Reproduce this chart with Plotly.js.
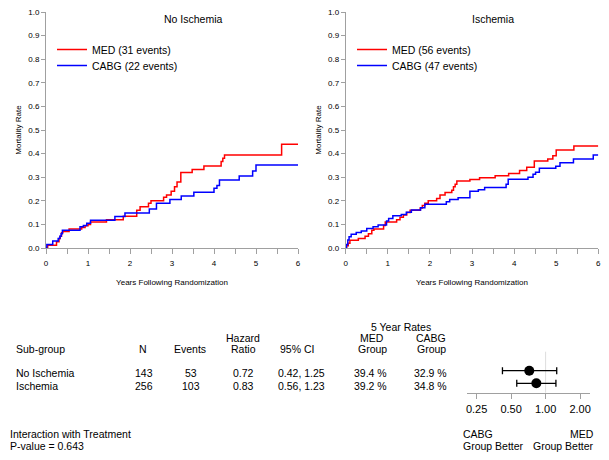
<!DOCTYPE html>
<html>
<head>
<meta charset="utf-8">
<script src="https://cdn.plot.ly/plotly-3.0.1.min.js"></script>
<style>html,body{margin:0;padding:0;background:#fff;}#chart{width:609px;height:460px;}</style>
</head>
<body>
<div id="chart"></div>
<script>
// ---- Kaplan-Meier data: No Ischemia ----
const noIschMedT = [0, 0.04, 0.25, 0.31, 0.34, 0.37, 0.4, 0.55, 0.85, 0.93, 1.0, 1.06, 1.44, 1.84, 2.16, 2.24, 2.44, 2.5, 2.8, 2.87, 2.98, 3.06, 3.12, 3.21, 3.48, 3.76, 4.17, 4.21, 4.25, 5.61, 6.0];
const noIschMedY = [0, 0.012, 0.027, 0.04, 0.05, 0.065, 0.07, 0.08, 0.087, 0.094, 0.1, 0.11, 0.12, 0.135, 0.16, 0.175, 0.19, 0.2, 0.215, 0.225, 0.24, 0.26, 0.28, 0.32, 0.333, 0.347, 0.366, 0.38, 0.394, 0.44, 0.44];
const noIschCabgT = [0, 0.02, 0.16, 0.29, 0.33, 0.36, 0.39, 0.81, 0.89, 0.97, 1.06, 1.64, 1.88, 2.46, 2.63, 2.95, 3.22, 3.52, 4.0, 4.07, 4.13, 4.6, 4.92, 5.0, 6.0];
const noIschCabgY = [0, 0.015, 0.03, 0.04, 0.05, 0.06, 0.075, 0.09, 0.095, 0.105, 0.118, 0.133, 0.148, 0.165, 0.19, 0.205, 0.22, 0.236, 0.253, 0.265, 0.288, 0.305, 0.326, 0.352, 0.352];

// ---- Kaplan-Meier data: Ischemia ----
const ischMedT = [0, 0.02, 0.06, 0.1, 0.3, 0.46, 0.54, 0.62, 0.67, 0.9, 0.94, 1.21, 1.29, 1.37, 1.45, 1.53, 1.77, 1.82, 1.88, 1.96, 2.16, 2.24, 2.36, 2.52, 2.56, 2.6, 2.64, 2.95, 3.18, 3.55, 3.87, 4.13, 4.3, 4.48, 4.8, 4.92, 5.0, 5.42, 6.0];
const ischMedY = [0, 0.01, 0.02, 0.033, 0.04, 0.05, 0.06, 0.075, 0.08, 0.095, 0.11, 0.12, 0.13, 0.14, 0.15, 0.16, 0.17, 0.18, 0.19, 0.2, 0.21, 0.225, 0.235, 0.245, 0.26, 0.27, 0.284, 0.29, 0.298, 0.306, 0.316, 0.328, 0.342, 0.369, 0.377, 0.391, 0.415, 0.432, 0.432];
const ischCabgT = [0, 0.02, 0.05, 0.08, 0.13, 0.25, 0.37, 0.5, 0.65, 0.77, 0.97, 1.02, 1.12, 1.32, 1.44, 1.56, 1.78, 1.88, 2.39, 2.47, 2.67, 2.95, 3.15, 3.3, 3.81, 3.86, 4.33, 4.45, 4.51, 4.6, 4.99, 5.09, 5.41, 5.88, 6.0];
const ischCabgY = [0, 0.015, 0.034, 0.048, 0.058, 0.066, 0.072, 0.083, 0.09, 0.097, 0.114, 0.125, 0.137, 0.142, 0.151, 0.161, 0.171, 0.185, 0.196, 0.205, 0.213, 0.24, 0.247, 0.256, 0.27, 0.291, 0.3, 0.312, 0.321, 0.338, 0.346, 0.361, 0.377, 0.394, 0.394];

const panelTitles = ["No Ischemia", "Ischemia"];
const medEvents = [31, 56];
const cabgEvents = [22, 47];

// ---- Forest table ----
const subgroups = ["No Ischemia", "Ischemia"];
const nVals = [143, 256];
const eventVals = [53, 103];
const hrVals = [0.72, 0.83];
const ciLow = [0.42, 0.56];
const ciHigh = [1.25, 1.23];
const medRate = [39.4, 39.2];
const cabgRate = [32.9, 34.8];
const forestTicks = [0.25, 0.5, 1, 2];
const forestTickText = ["0.25", "0.50", "1.00", "2.00"];
const pValue = "0.643";

const W = 609, H = 460;
const px = v => v / W;
const py = v => 1 - v / H;
const FONT = "Liberation Sans, Arial, sans-serif";
const RED = "#FF0000", BLUE = "#0000FF";
const AX = "#A0A0A0";

const traces = [
  {x: noIschMedT, y: noIschMedY, type: "scatter", mode: "lines", line: {shape: "hv", color: RED, width: 1.5},
   name: "MED (" + medEvents[0] + " events)", xaxis: "x", yaxis: "y", legend: "legend"},
  {x: noIschCabgT, y: noIschCabgY, type: "scatter", mode: "lines", line: {shape: "hv", color: BLUE, width: 1.5},
   name: "CABG (" + cabgEvents[0] + " events)", xaxis: "x", yaxis: "y", legend: "legend2"},
  {x: ischMedT, y: ischMedY, type: "scatter", mode: "lines", line: {shape: "hv", color: RED, width: 1.5},
   name: "MED (" + medEvents[1] + " events)", xaxis: "x2", yaxis: "y2", legend: "legend3"},
  {x: ischCabgT, y: ischCabgY, type: "scatter", mode: "lines", line: {shape: "hv", color: BLUE, width: 1.5},
   name: "CABG (" + cabgEvents[1] + " events)", xaxis: "x2", yaxis: "y2", legend: "legend4"},
  {x: hrVals, y: subgroups.map((s, i) => subgroups.length - i), type: "scatter", mode: "markers",
   marker: {symbol: "circle", size: 10, color: "#000"},
   error_x: {type: "data", symmetric: false,
     array: hrVals.map((h, i) => ciHigh[i] - h), arrayminus: hrVals.map((h, i) => h - ciLow[i]),
     color: "#000", thickness: 1.3, width: 3.5},
   xaxis: "x3", yaxis: "y3", showlegend: false, hoverinfo: "skip"}
];

const xTickVals = [], xTickText = [];
for (let i = 0; i <= 12; i++) { xTickVals.push(i / 2); xTickText.push(i % 2 === 0 ? String(i / 2) : ""); }

function kmX(domain) {
  return {domain: domain, range: [0, 6], showline: true, linecolor: AX, linewidth: 1, ticks: "outside", tickcolor: AX,
    ticklen: 5, tickwidth: 1, tickvals: xTickVals, ticktext: xTickText, tickfont: {size: 8, color: "#000", family: FONT},
    ticklabelstandoff: 2,
    showgrid: false, zeroline: false, fixedrange: true,
    title: {text: "Years Following Randomization", font: {size: 8, color: "#000", family: FONT}, standoff: 12}};
}
function kmY(domain, anchor) {
  return {domain: domain, anchor: anchor, range: [0, 1], showline: true, linecolor: AX, linewidth: 1, ticks: "outside",
    tickcolor: AX, ticklen: 4, dtick: 0.1, tick0: 0, tickformat: ".1f", tickfont: {size: 8, color: "#000", family: FONT},
    showgrid: false, zeroline: false, fixedrange: true,
    title: {text: "Mortality Rate", font: {size: 8, color: "#000", family: FONT}, standoff: 5}};
}

function leg(x, yTop) {
  return {x: px(x), y: py(yTop), xanchor: "left", yanchor: "top", bgcolor: "rgba(0,0,0,0)", borderwidth: 0,
    font: {size: 10.5, family: FONT, color: "#000"}, tracegroupgap: 0};
}

const yDom = [py(248), py(12)];
const layout = {
  width: W, height: H, margin: {l: 0, r: 0, t: 0, b: 0}, paper_bgcolor: "#fff", plot_bgcolor: "#fff",
  font: {family: FONT, color: "#000"},
  xaxis: Object.assign(kmX([px(46), px(298)]), {anchor: "y"}),
  yaxis: kmY(yDom, "x"),
  xaxis2: Object.assign(kmX([px(345.7), px(598.3)]), {anchor: "y2"}),
  yaxis2: kmY(yDom, "x2"),
  xaxis3: {domain: [px(467), px(590)], anchor: "y3", type: "log", range: [Math.log10(0.206), Math.log10(2.44)],
    tickvals: forestTicks, ticktext: forestTickText, showline: true, linecolor: AX, ticks: "outside", tickcolor: AX,
    ticklen: 5, ticklabelstandoff: 1, tickfont: {size: 11, color: "#000", family: FONT}, showgrid: false, zeroline: false, fixedrange: true},
  yaxis3: {domain: [py(392.7), py(351.7)], anchor: "x3", range: [0.254, 3.51], visible: false, fixedrange: true},
  showlegend: true,
  legend: leg(52, 35),
  legend2: leg(52, 51),
  legend3: leg(352, 35),
  legend4: leg(352, 51),
  shapes: [
    {type: "line", xref: "x3", yref: "y3 domain", x0: 1, x1: 1, y0: 0, y1: 1, line: {color: "#DDDDDD", width: 1}, layer: "below"}
  ],
  annotations: []
};

function ann(text, x, y, align, size) {
  layout.annotations.push({text: text, xref: "paper", yref: "paper", x: px(x), y: py(y), showarrow: false,
    xanchor: align, yanchor: "middle", font: {size: size || 10.5, family: FONT, color: "#000"}});
}
// panel titles
ann(panelTitles[0], 193, 19, "center", 10.5);
ann(panelTitles[1], 493, 19, "center", 10.5);

// table header
ann("Sub-group", 14, 349, "left");
ann("N", 143, 349, "center");
ann("Events", 190, 349, "center");
ann("Hazard", 243, 338, "center");
ann("Ratio", 243, 349, "center");
ann("95% CI", 297, 349, "center");
ann("5 Year Rates", 401, 326.5, "center");
ann("MED", 372, 338, "center");
ann("Group", 372, 349, "center");
ann("CABG", 431, 338, "center");
ann("Group", 431, 349, "center");
const rowY = [372.7, 385.7];
subgroups.forEach((s, i) => {
  const y = rowY[i];
  ann(s, 14, y, "left");
  ann(String(nVals[i]), 144, y, "center");
  ann(String(eventVals[i]), 190.5, y, "center");
  ann(hrVals[i].toFixed(2), 243, y, "center");
  ann(ciLow[i].toFixed(2) + ", " + ciHigh[i].toFixed(2), 301, y, "center");
  ann(medRate[i].toFixed(1) + " %", 370, y, "center");
  ann(cabgRate[i].toFixed(1) + " %", 430.5, y, "center");
});
ann("Interaction with Treatment", 8, 434, "left");
ann("P-value = " + pValue, 8, 445.5, "left");
ann("CABG", 461, 434, "left");
ann("Group Better", 461, 445.5, "left");
ann("MED", 596, 434, "right");
ann("Group Better", 596, 445.5, "right");

Plotly.newPlot("chart", traces, layout, {staticPlot: true, displayModeBar: false});
</script>
</body>
</html>
